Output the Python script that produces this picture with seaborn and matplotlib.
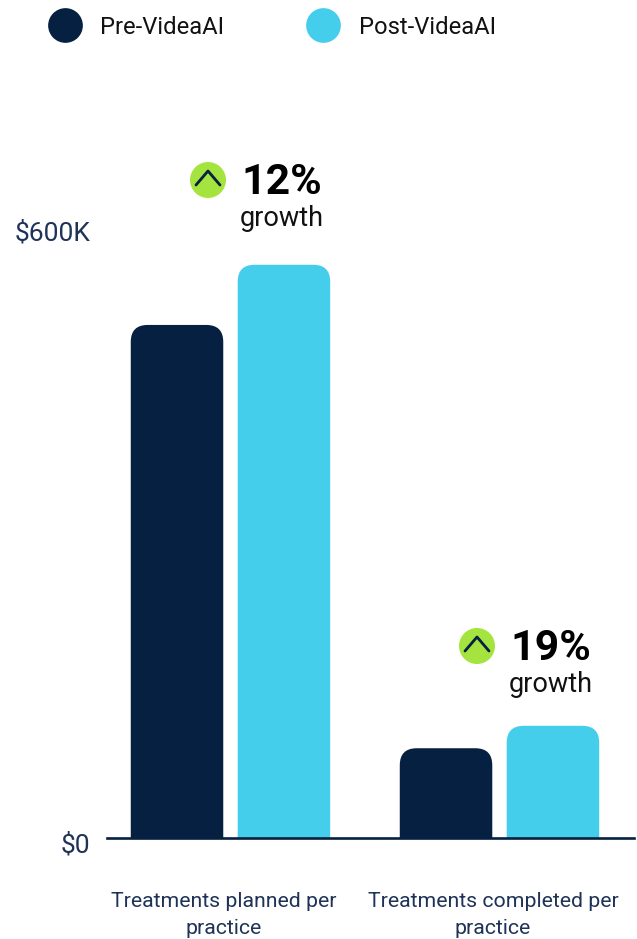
import pandas as pd
import matplotlib
matplotlib.use('Agg')
import matplotlib.pyplot as plt
import seaborn as sns
from matplotlib.lines import Line2D
from matplotlib.patches import Circle, PathPatch
from matplotlib.path import Path
from matplotlib.transforms import ScaledTranslation

# values
categories = ['Treatments planned per\npractice', 'Treatments completed per\npractice']
pre_values = [503, 88]
post_values = [562, 110]
series_names = ['Pre-VideaAI', 'Post-VideaAI']
growth_labels = ['12%', '19%']
y_ticks = [0, 600]
y_tick_labels = [r'\$0', r'\$600K']

navy = '#052040'
sky = '#45CEEB'
green = '#A5E33F'
label_color = '#1F3358'
W, H = 637, 939

sns.set_theme(style='white')
plt.rcParams['font.family'] = ['Roboto', 'DejaVu Sans']

df = pd.DataFrame({
    'category': categories * 2,
    'series': [series_names[0]] * 2 + [series_names[1]] * 2,
    'value': pre_values + post_values,
})

fig = plt.figure(figsize=(W / 100, H / 100), dpi=100)
# axes box: x 107-634, y from $600K (226) to the baseline (838), in image pixels
ax = fig.add_axes([107 / W, 1 - 838 / H, (634 - 107) / W, (838 - 226) / H])

sns.barplot(data=df, x='category', y='value', hue='series', order=categories,
            hue_order=series_names, palette=[navy, sky], saturation=1,
            width=0.795, gap=0.135, legend=False, ax=ax)
ax.set_xlim(-0.459, 1.5)
ax.set_ylim(0, 600)

# swap the square bars for ones with rounded top corners
rx = 17 / (ax.get_position().width * W) * (ax.get_xlim()[1] - ax.get_xlim()[0])
ry = 17 / (ax.get_position().height * H) * 600
for bar in list(ax.patches):
    x0, x1 = bar.get_x(), bar.get_x() + bar.get_width()
    top = bar.get_height()
    verts = [(x0, 0), (x0, top - ry), (x0, top), (x0 + rx, top), (x1 - rx, top),
             (x1, top), (x1, top - ry), (x1, 0), (x0, 0)]
    codes = [Path.MOVETO, Path.LINETO, Path.CURVE3, Path.CURVE3, Path.LINETO,
             Path.CURVE3, Path.CURVE3, Path.LINETO, Path.CLOSEPOLY]
    ax.add_patch(PathPatch(Path(verts, codes), facecolor=bar.get_facecolor(),
                           edgecolor='none', clip_on=False, zorder=3))
    bar.remove()

sns.despine(ax=ax, left=True, top=True, right=True)
ax.spines['bottom'].set_color(navy)
ax.spines['bottom'].set_linewidth(1.9)
ax.spines['bottom'].set_zorder(4)
ax.set_xlabel('')
ax.set_ylabel('')

ax.set_yticks(y_ticks)
ax.set_yticklabels(y_tick_labels, fontsize=19, color=label_color, va='center')
ax.tick_params(axis='y', length=0, pad=12)
# labels sit 7 px below their tick
shift_down = ScaledTranslation(0, -7 / 100, fig.dpi_scale_trans)
for lab in ax.get_yticklabels():
    lab.set_transform(lab.get_transform() + shift_down)

ax.set_xticks([-0.024, 0.976])
ax.set_xticklabels(categories, fontsize=15.3, color=label_color, linespacing=1.5)
ax.tick_params(axis='x', length=0, pad=39)


def px(x, y):
    return x / W, 1 - y / H


# legend
handles = [Line2D([], [], linestyle='none', marker='o', markersize=25, color=c,
                  markeredgewidth=0) for c in (navy, sky)]
fig.legend(handles, series_names, loc='center left', bbox_to_anchor=px(35, 27),
           ncol=2, frameon=False, fontsize=17.1, labelcolor='#111111',
           handlelength=2.5, handletextpad=0.25, columnspacing=2.9, borderpad=0,
           borderaxespad=0)

# growth callouts
callouts = [(208, 180, 282, 217), (477, 646, 551, 683)]
for (cx, cy, tx, gy), pct in zip(callouts, growth_labels):
    fig.add_artist(Circle((cx, H - cy), 18, transform=None, facecolor=green, edgecolor='none'))
    fig.add_artist(Line2D([cx - 12, cx, cx + 12], [H - cy - 5, H - cy + 9, H - cy - 5],
                          transform=None, color=navy, linewidth=2))
    x_t, y_t = px(tx, cy + 2)
    fig.text(x_t, y_t, pct, fontsize=30.8, fontweight='bold', color='black', ha='center', va='center')
    x_g, y_g = px(tx, gy + 2)
    fig.text(x_g, y_g, 'growth', fontsize=19.5, color='#111111', ha='center', va='center')

fig.savefig('out.png', dpi=100)
